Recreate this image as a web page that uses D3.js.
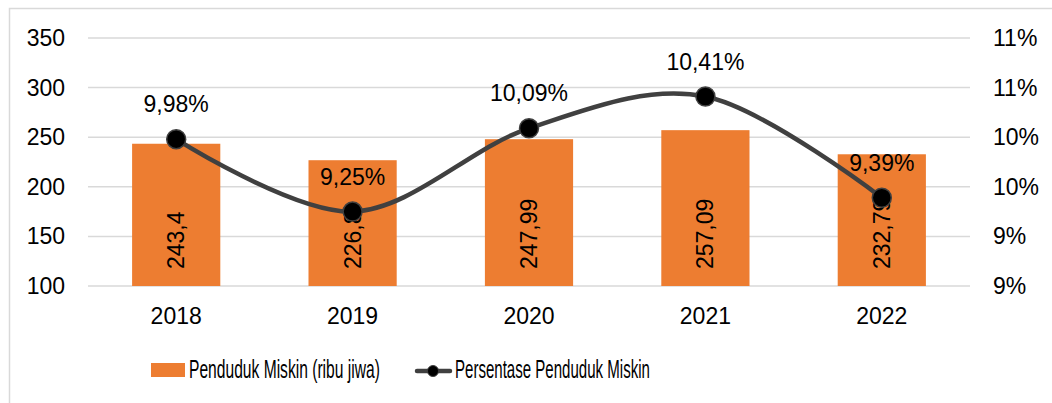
<!DOCTYPE html>
<html>
<head>
<meta charset="utf-8">
<script src="https://cdn.jsdelivr.net/npm/d3@7"></script>
<style>
  body { margin: 0; background: #fff; }
  text { font-family: "Liberation Sans", Arial, sans-serif; fill: #000; }
</style>
</head>
<body>
<svg id="chart" width="1052" height="403"></svg>
<script>
// data
const years = ["2018", "2019", "2020", "2021", "2022"];
const poorPeople = [243.4, 226.8, 247.99, 257.09, 232.79];   // ribu jiwa
const poorPct = [9.98, 9.25, 10.09, 10.41, 9.39];          // persen
const leftTicks = [100, 150, 200, 250, 300, 350];
const rightTicks = [8.5, 9, 9.5, 10, 10.5, 11];
const seriesNames = ["Penduduk Miskin (ribu jiwa)", "Persentase Penduduk Miskin"];

const svg = d3.select("#chart");
const orange = "#ED7D31";
const lineColor = "#404040";
const gridColor = "#d9d9d9";

// chart frame
svg.append("rect")
  .attr("x", 9.5).attr("y", 8.5)
  .attr("width", 1060).attr("height", 420)
  .attr("fill", "none")
  .attr("stroke", gridColor)
  .attr("stroke-width", 1.5);

const plot = { left: 88, right: 970, top: 38, bottom: 286 };

const x = d3.scaleBand()
  .domain(years)
  .range([plot.left, plot.right])
  .paddingInner(0.5)
  .paddingOuter(0.25);

const y = d3.scaleLinear().domain([100, 350]).range([plot.bottom, plot.top]);
const y2 = d3.scaleLinear().domain([8.5, 11]).range([plot.bottom, plot.top]);

// gridlines
svg.append("g")
  .selectAll("line")
  .data(leftTicks)
  .join("line")
  .attr("x1", plot.left).attr("x2", plot.right)
  .attr("y1", d => y(d)).attr("y2", d => y(d))
  .attr("stroke", gridColor)
  .attr("stroke-width", 1.5);

// left axis labels
svg.append("g")
  .selectAll("text")
  .data(leftTicks)
  .join("text")
  .attr("x", 65)
  .attr("y", d => y(d))
  .attr("dy", "0.35em")
  .attr("text-anchor", "end")
  .style("font-size", "23px")
  .text(d => d);

// right axis labels
svg.append("g")
  .selectAll("text")
  .data(rightTicks)
  .join("text")
  .attr("x", 993)
  .attr("y", d => y2(d))
  .attr("dy", "0.35em")
  .attr("text-anchor", "start")
  .style("font-size", "23px")
  .text(d => d.toFixed(0) + "%");

// x labels
svg.append("g")
  .selectAll("text")
  .data(years)
  .join("text")
  .attr("x", d => x(d) + x.bandwidth() / 2)
  .attr("y", 324)
  .attr("text-anchor", "middle")
  .style("font-size", "23px")
  .text(d => d);

// bars
const barData = years.map((yr, i) => ({ year: yr, value: poorPeople[i] }));
svg.append("g")
  .selectAll("rect")
  .data(barData)
  .join("rect")
  .attr("x", d => x(d.year))
  .attr("width", x.bandwidth())
  .attr("y", d => y(d.value))
  .attr("height", d => y(100) - y(d.value))
  .attr("fill", orange);

// bar labels (rotated, inside base)
svg.append("g")
  .selectAll("text")
  .data(barData)
  .join("text")
  .attr("transform", d => `translate(${x(d.year) + x.bandwidth() / 2},269) rotate(-90)`)
  .attr("dy", "0.35em")
  .attr("text-anchor", "start")
  .style("font-size", "23px")
  .text(d => String(d.value).replace(".", ","));

// line
const lineData = years.map((yr, i) => ({ year: yr, value: poorPct[i] }));
const line = d3.line()
  .x(d => x(d.year) + x.bandwidth() / 2)
  .y(d => y2(d.value))
  .curve(d3.curveCardinal.tension(0));

svg.append("path")
  .datum(lineData)
  .attr("d", line)
  .attr("fill", "none")
  .attr("stroke", lineColor)
  .attr("stroke-width", 4.5)
  .attr("stroke-linecap", "round");

svg.append("g")
  .selectAll("circle")
  .data(lineData)
  .join("circle")
  .attr("cx", d => x(d.year) + x.bandwidth() / 2)
  .attr("cy", d => y2(d.value))
  .attr("r", 9.5)
  .attr("fill", "#000")
  .attr("stroke", lineColor)
  .attr("stroke-width", 1.5);

// line labels
svg.append("g")
  .selectAll("text")
  .data(lineData)
  .join("text")
  .attr("x", d => x(d.year) + x.bandwidth() / 2)
  .attr("y", d => y2(d.value) - 35)
  .attr("dy", "0.35em")
  .attr("text-anchor", "middle")
  .style("font-size", "23px")
  .text(d => d.value.toFixed(2).replace(".", ",") + "%");

// legend (text is squeezed horizontally like the original)
function legendText(label, x0, width) {
  const g = legend.append("g");
  const t = g.append("text")
    .style("font-size", "25px")
    .text(label);
  const sx = width / t.node().getComputedTextLength();
  g.attr("transform", `translate(${x0},378) scale(${sx},1)`);
}

const legend = svg.append("g");
legend.append("rect")
  .attr("x", 151).attr("y", 363)
  .attr("width", 34).attr("height", 14)
  .attr("fill", orange);
legendText(seriesNames[0], 189, 191);

legend.append("line")
  .attr("x1", 417).attr("x2", 450)
  .attr("y1", 371).attr("y2", 371)
  .attr("stroke", lineColor)
  .attr("stroke-width", 4.5)
  .attr("stroke-linecap", "round");
legend.append("circle")
  .attr("cx", 433).attr("cy", 371)
  .attr("r", 5.5)
  .attr("fill", "#000")
  .attr("stroke", lineColor)
  .attr("stroke-width", 1);
legendText(seriesNames[1], 455, 195);
</script>
</body>
</html>
